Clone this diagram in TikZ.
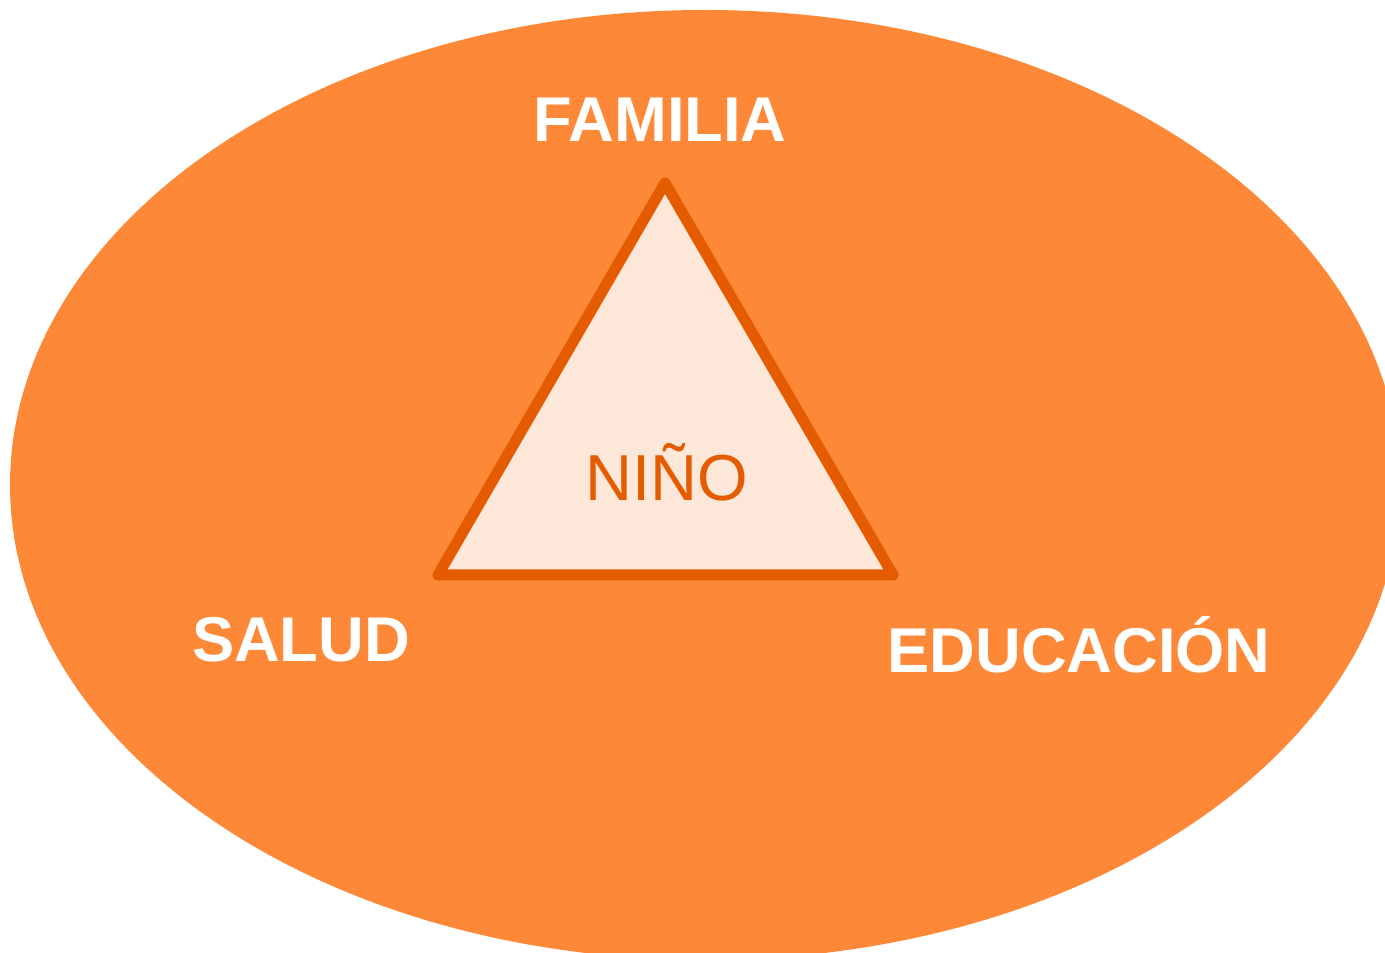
\documentclass[tikz,border=0pt]{standalone}
\usepackage{fontspec}
\setmainfont{Liberation Sans}
\usepackage{tikz}
\definecolor{bg-ellipse}{HTML}{FD8838}
\definecolor{tri-line}{HTML}{E55C00}
\definecolor{tri-fill}{HTML}{FDE7D8}
\usetikzlibrary{positioning}

\begin{document}
\begin{tikzpicture}[label/.style={text=white,font=\fontsize{18}{20}\selectfont\bfseries,anchor=base,inner sep=0pt}]
\useasboundingbox (0,0) rectangle (13.85,9.53);
\clip (0,0) rectangle (13.85,9.53);
\fill[bg-ellipse] (7.05,4.68) ellipse[x radius=6.95,y radius=4.75];
\path
(6.65,7.70) coordinate (top)
(4.38,3.78) coordinate (left)
(8.93,3.78) coordinate (right);
\draw[tri-line,fill=tri-fill,line width=1.1mm,line join=round] (top)--(left)--(right)--cycle;
\path
(6.67,4.52)  node[anchor=base,inner sep=0pt,text=tri-line,font=\fontsize{18.5}{21}\selectfont] (nino) {NIÑO}
(6.60,8.11)  node[label] (familia) {FAMILIA}
(3.01,2.91)  node[label] (salud) {SALUD}
(10.79,2.80) node[label] (educacion) {EDUCACIÓN};
\end{tikzpicture}
\end{document}
